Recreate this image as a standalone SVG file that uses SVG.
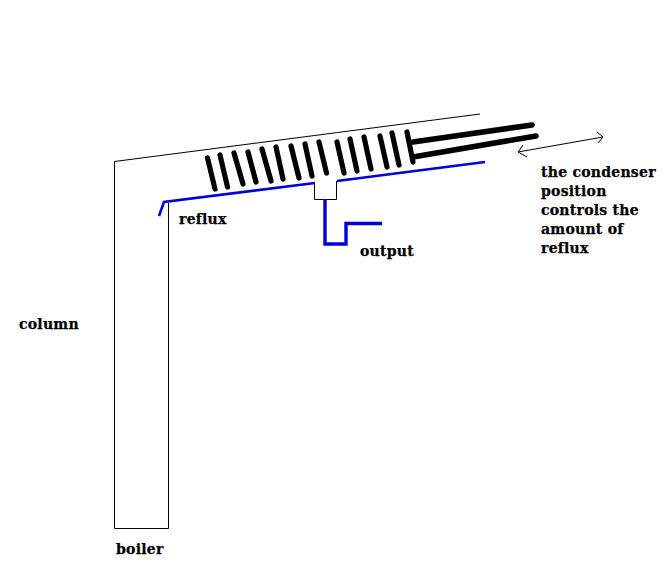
<svg xmlns="http://www.w3.org/2000/svg" width="669" height="575" viewBox="0 0 669 575">
  <style>
    .thin { fill: none; stroke: #000; stroke-width: 1; }
    .column { fill: none; stroke: #000; stroke-width: 1; }
    .flow { fill: none; stroke: #0000d8; stroke-linejoin: miter; }
    .fin { stroke: #000; stroke-width: 5.2; stroke-linecap: round; }
    .rod { stroke: #000; stroke-width: 5.6; stroke-linecap: round; }
    text { font-family: "DejaVu Serif", "Liberation Serif", serif; font-weight: bold; font-size: 14px; letter-spacing: 0.25px; fill: #000; stroke: #000; stroke-width: 0.25; }
  </style>
  <rect width="669" height="575" fill="#fff"/>
  <g id="column">
    <path class="column" d="M480 114 L114.5 161.5 V528.5 H168.5 V203"/>
  </g>
  <g id="condenser">
    <line class="fin" x1="207.5" y1="158" x2="215" y2="189"/>
    <line class="fin" x1="220" y1="155" x2="227.5" y2="187"/>
    <line class="fin" x1="234" y1="153" x2="243" y2="184"/>
    <line class="fin" x1="248" y1="152" x2="256" y2="182"/>
    <line class="fin" x1="262" y1="149" x2="271" y2="181"/>
    <line class="fin" x1="276" y1="147" x2="283" y2="179"/>
    <line class="fin" x1="291" y1="146" x2="299" y2="178"/>
    <line class="fin" x1="305" y1="144" x2="312" y2="176"/>
    <line class="fin" x1="319" y1="142" x2="326.5" y2="173"/>
    <line class="fin" x1="337" y1="142" x2="344" y2="173"/>
    <line class="fin" x1="350" y1="139" x2="357" y2="171"/>
    <line class="fin" x1="364" y1="137" x2="371" y2="169"/>
    <line class="fin" x1="380" y1="136" x2="387" y2="167"/>
    <line class="fin" x1="392" y1="133" x2="399" y2="165"/>
    <line class="fin" x1="407" y1="132" x2="413" y2="162"/>
    <line class="rod" x1="413" y1="142" x2="532" y2="125"/>
    <line class="rod" x1="413" y1="157" x2="536" y2="136"/>
  </g>
  <g id="collector">
    <path class="thin" d="M314.5 183 V199.5 H336.5 V181"/>
    <path class="flow" stroke-width="2.6" d="M159 216 L164 202 L315 183"/>
    <path class="flow" stroke-width="2.6" d="M337 181 L485 162"/>
    <path class="flow" stroke-width="3.4" d="M325 199 V244 H346 V223.5 H382"/>
  </g>
  <g id="connectors">
    <path class="thin" d="M518 152 L603 137 M597 132 L603 137 L598 143 M523 145 L518 152 L527 157"/>
  </g>
  <g id="labels">
    <text x="179" y="224">reflux</text>
    <text x="360" y="256">output</text>
    <text x="19" y="329">column</text>
    <text x="116" y="554">boiler</text>
    <text x="541" y="177">the condenser</text>
    <text x="541" y="196">position</text>
    <text x="541" y="215">controls the</text>
    <text x="541" y="234">amount of</text>
    <text x="541" y="253">reflux</text>
  </g>
</svg>
